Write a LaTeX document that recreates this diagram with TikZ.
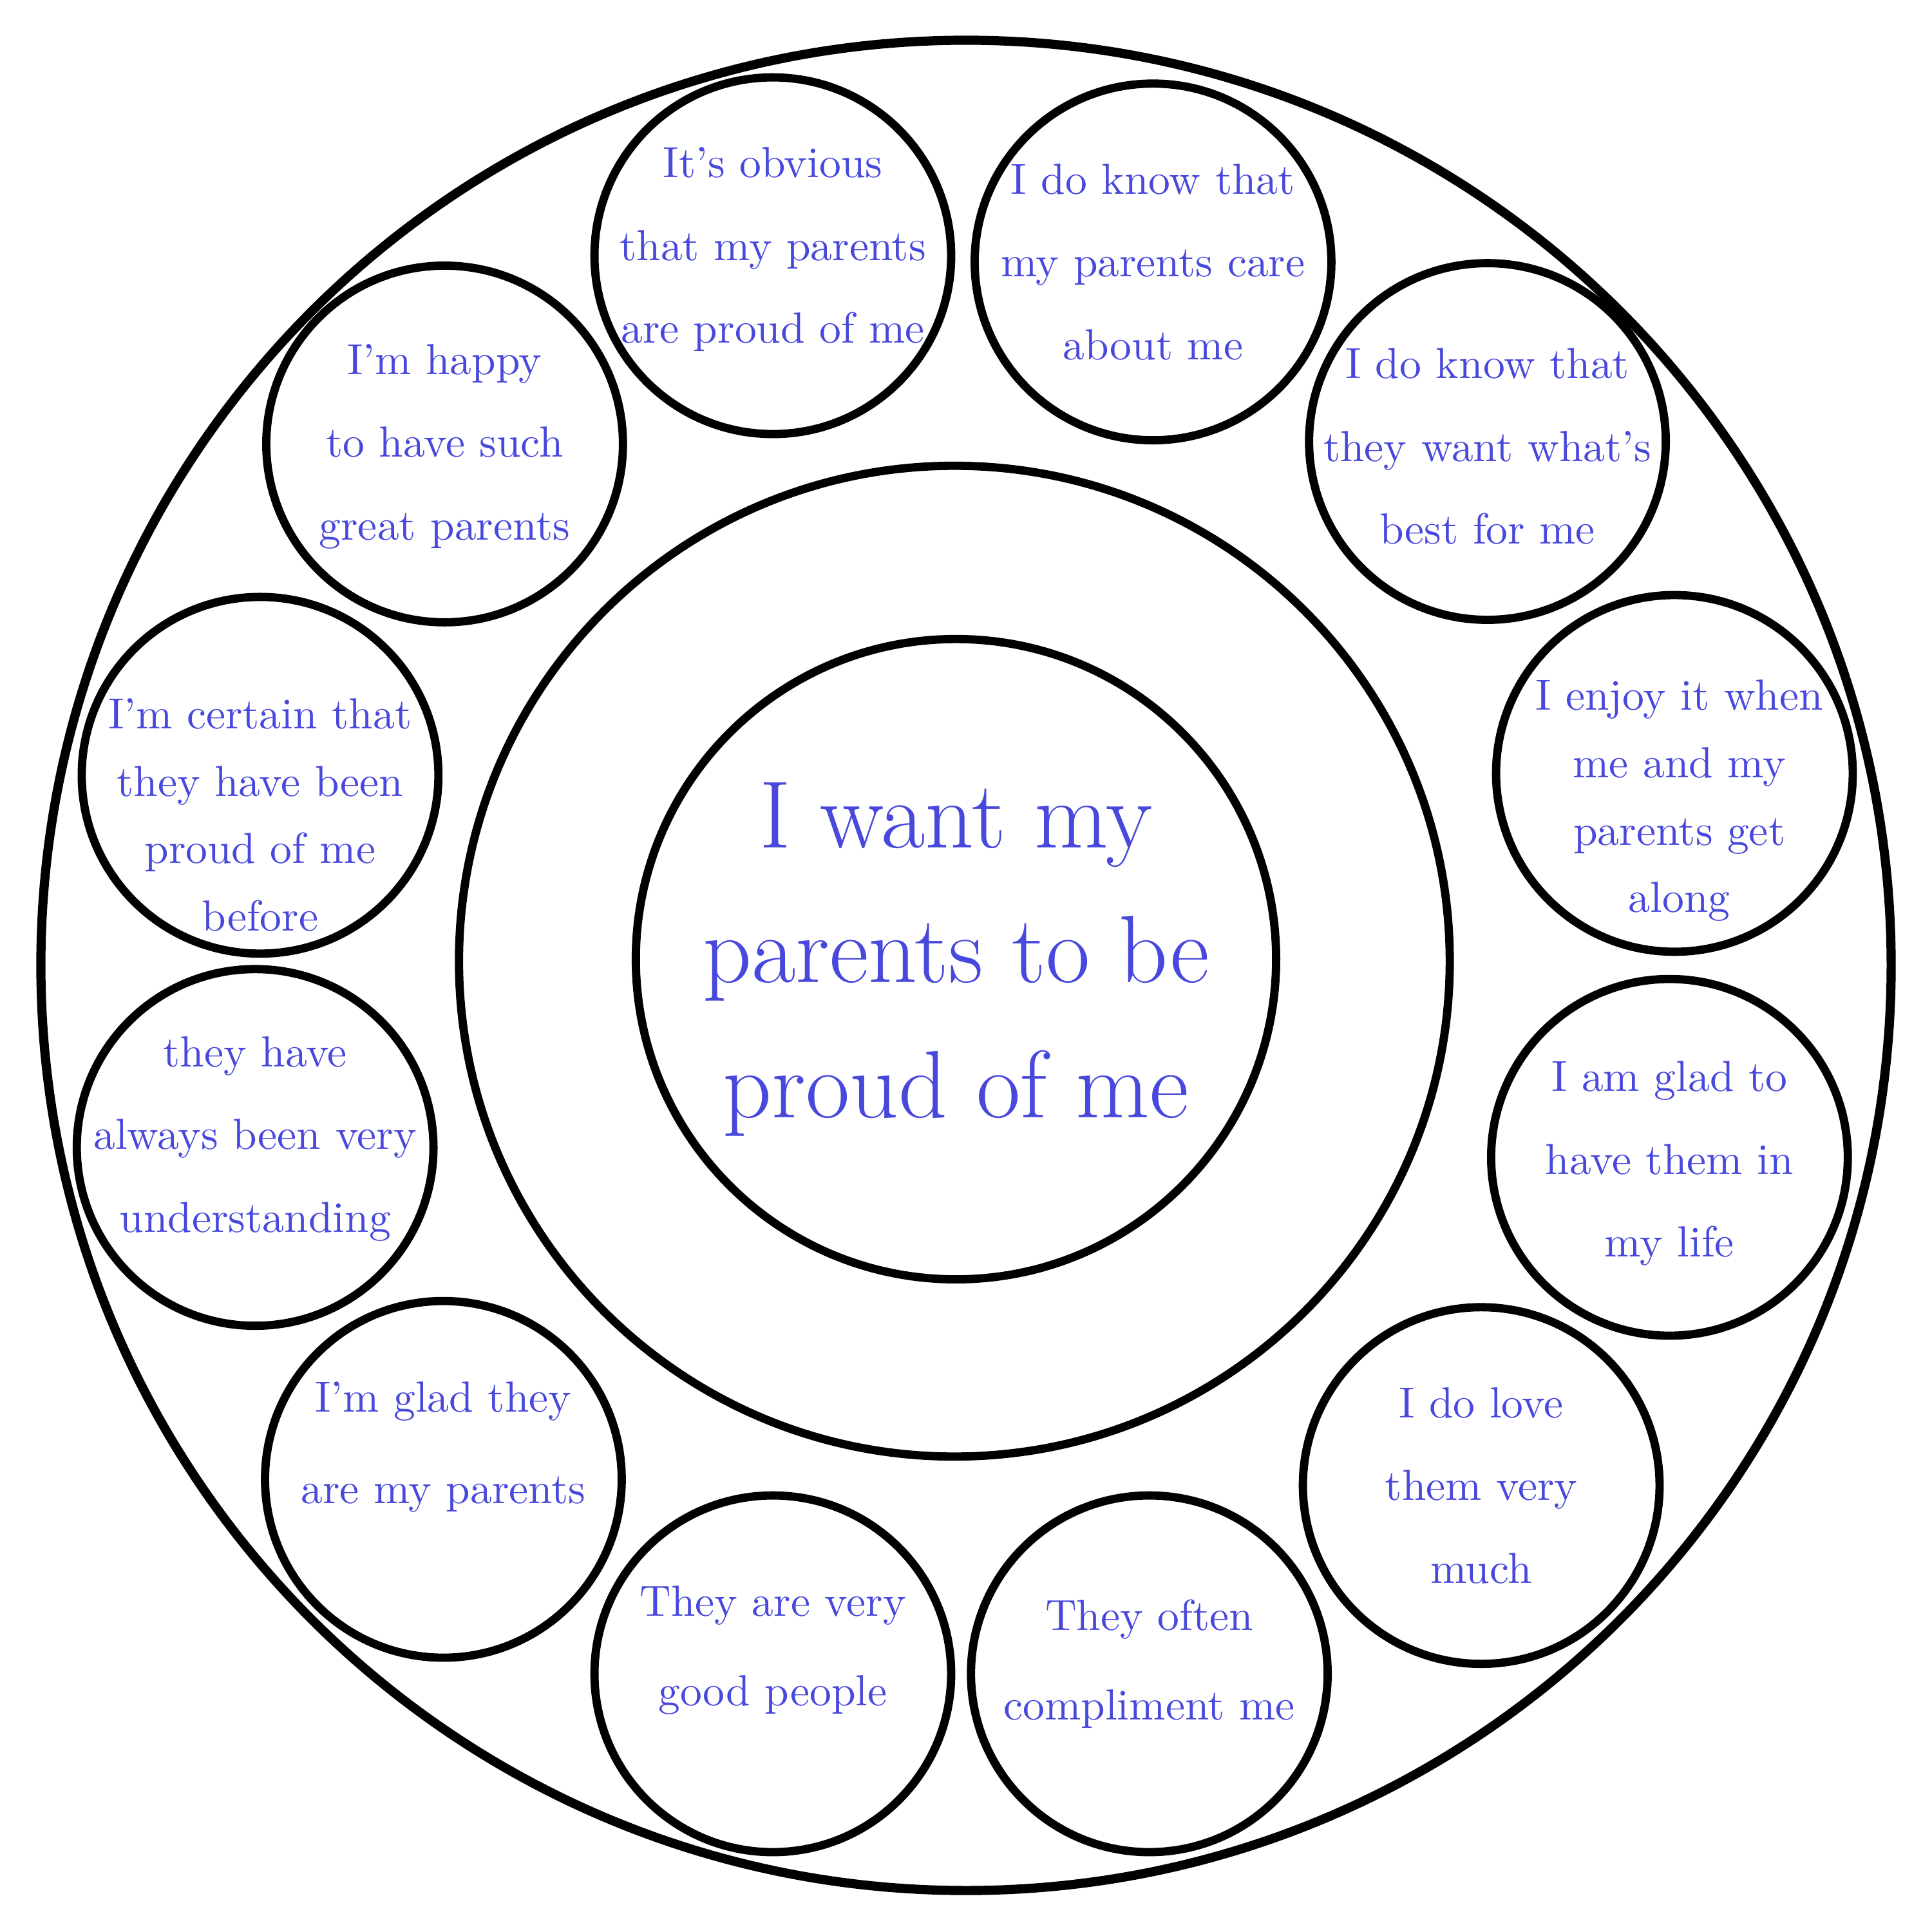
\documentclass[tikz,border=0pt]{standalone}
\definecolor{ink}{RGB}{72,72,220}
\begin{document}
\begin{tikzpicture}[
  ring/.style={circle,draw,line width=1.9pt,inner sep=0pt,outer sep=0pt},
  bubble/.style={ring,minimum size=2.88cm},
  msg/.style={text=ink,align=center,inner sep=0pt,font=\fontsize{10}{19}\selectfont},
  msgtight/.style={msg,font=\fontsize{10}{15.5}\selectfont},
]
\useasboundingbox (0,0) rectangle (15.6,-15.6);
\node[ring,line width=2.1pt,minimum size=14.94cm] (outer) at (7.80,-7.795) {};
\node[ring,minimum size=8.0cm] (middle) at (7.706,-7.761) {};
\node[ring,minimum size=5.17cm] (core) at (7.719,-7.745) {};
\node[msg,font=\fontsize{22}{31}\selectfont] (goal) at (core) {I want my\\parents to be\\proud of me};
\node[bubble] (b1) at (6.24,-2.065) {};
\node[bubble] (b2) at (9.31,-2.115) {};
\node[bubble] (b3) at (12.01,-3.565) {};
\node[bubble] (b4) at (13.52,-6.245) {};
\node[bubble] (b5) at (13.48,-9.345) {};
\node[bubble] (b6) at (11.96,-11.995) {};
\node[bubble] (b7) at (9.28,-13.515) {};
\node[bubble] (b8) at (6.24,-13.515) {};
\node[bubble] (b9) at (3.58,-11.945) {};
\node[bubble] (b10) at (2.06,-9.265) {};
\node[bubble] (b11) at (2.10,-6.26) {};
\node[bubble] (b12) at (3.59,-3.585) {};
\node[msg] (m1) at ([yshift=0.05cm]b1) {It's obvious\\that my parents\\are proud of me};
\node[msg] (m2) at (b2) {I do know that\\my parents care\\about me};
\node[msg] (m3) at ([yshift=-0.04cm]b3) {I do know that\\they want what's\\best for me};
\node[msgtight] (m4) at ([xshift=0.04cm,yshift=-0.22cm]b4) {I enjoy it when\\me and my\\parents get\\along};
\node[msg] (m5) at ([yshift=-0.05cm]b5) {I am glad to\\have them in\\my life};
\node[msg] (m6) at (b6) {I do love\\them very\\much};
\node[msg,font=\fontsize{10}{20.5}\selectfont] (m7) at ([yshift=0.08cm]b7) {They often\\compliment me};
\node[msg,font=\fontsize{10}{20.5}\selectfont] (m8) at ([yshift=0.19cm]b8) {They are very\\good people};
\node[msg,font=\fontsize{10}{21}\selectfont] (m9) at ([yshift=0.26cm]b9) {I'm glad they\\are my parents};
\node[msg] (m10) at ([yshift=0.07cm]b10) {they have\\always been very\\understanding};
\node[msgtight] (m11) at ([yshift=-0.32cm]b11) {I'm certain that\\they have been\\proud of me\\before};
\node[msg] (m12) at ([yshift=-0.02cm]b12) {I'm happy\\to have such\\great parents};
\end{tikzpicture}
\end{document}
